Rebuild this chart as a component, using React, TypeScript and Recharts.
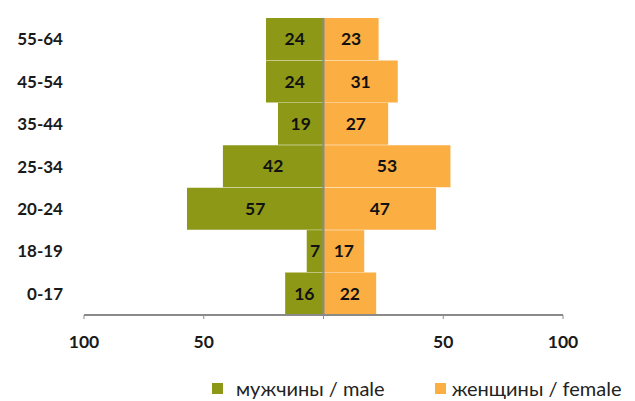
import React from "react";
import { BarChart, Bar, XAxis, YAxis, Legend, ReferenceLine, LabelList } from "recharts";

const categories = ["55-64", "45-54", "35-44", "25-34", "20-24", "18-19", "0-17"];
const maleValues = [24, 24, 19, 42, 57, 7, 16];
const femaleValues = [23, 31, 27, 53, 47, 17, 22];
const xTicks = [-100, -50, 0, 50, 100];

const MALE_COLOR = "#8D9816";
const FEMALE_COLOR = "#FBAE42";
const FONT = "Lato, 'Open Sans', sans-serif";

const data = categories.map((c, i) => ({
  age: c,
  male: -maleValues[i],
  female: femaleValues[i],
}));

const LegendContent = () => (
  <div
    style={{
      display: "flex",
      alignItems: "center",
      height: 24,
      paddingLeft: 212,
      fontFamily: FONT,
      fontSize: 20,
      color: "#222",
      whiteSpace: "nowrap",
    }}
  >
    <span style={{ width: 11, height: 11, background: MALE_COLOR, display: "inline-block", marginRight: 13 }} />
    <span>мужчины / male</span>
    <span style={{ width: 11, height: 11, background: FEMALE_COLOR, display: "inline-block", marginLeft: 50, marginRight: 6 }} />
    <span>женщины / female</span>
  </div>
);

export default function App() {
  return (
    <div style={{ position: "absolute", left: 0, top: 0 }}>
      <BarChart
        width={635}
        height={401}
        data={data}
        layout="vertical"
        stackOffset="sign"
        barCategoryGap={0}
        margin={{ top: 18, right: 72, bottom: 26, left: 0 }}
      >
        <XAxis
          type="number"
          domain={[-100, 100]}
          ticks={xTicks}
          tickFormatter={(v: number) => (v === 0 ? "" : String(Math.abs(v)))}
          height={36}
          tickSize={4}
          tickMargin={17}
          axisLine={{ stroke: "#8a8a8a", strokeWidth: 2 }}
          tickLine={{ stroke: "#8a8a8a" }}
          tick={{ fill: "#1a1a1a", fontFamily: FONT, fontWeight: 700, fontSize: 17.5 }}
        />
        <YAxis
          type="category"
          dataKey="age"
          width={84}
          axisLine={false}
          tickLine={false}
          tickMargin={15}
          tick={{ fill: "#1a1a1a", fontFamily: FONT, fontWeight: 700, fontSize: 17 }}
        />
        <Bar dataKey="male" stackId="a" fill={MALE_COLOR} isAnimationActive={false}>
          <LabelList
            dataKey="male"
            position="center"
            formatter={(v: number) => Math.abs(v)}
            style={{ fill: "#111", fontFamily: FONT, fontWeight: 700, fontSize: 17.5 }}
          />
        </Bar>
        <Bar dataKey="female" stackId="a" fill={FEMALE_COLOR} isAnimationActive={false}>
          <LabelList
            dataKey="female"
            position="center"
            style={{ fill: "#111", fontFamily: FONT, fontWeight: 700, fontSize: 17.5 }}
          />
        </Bar>
        <ReferenceLine x={0} stroke="#8a8a8a" strokeWidth={2} />
        <Legend
          verticalAlign="bottom"
          content={<LegendContent />}
          wrapperStyle={{ bottom: 1, left: 0, width: 635 }}
        />
      </BarChart>
    </div>
  );
}
